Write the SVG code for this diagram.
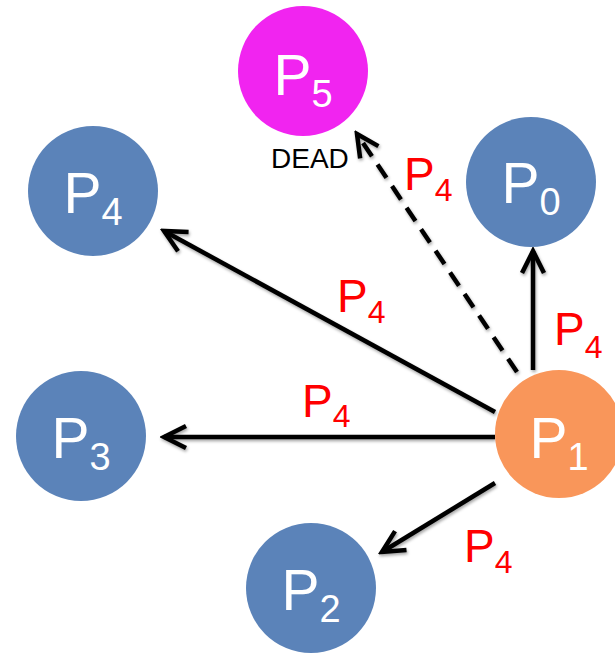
<svg xmlns="http://www.w3.org/2000/svg" width="615" height="656" viewBox="0 0 615 656">
<style>
.blue{fill:#5B83B9}
.nl{font-family:"Liberation Sans",Arial,sans-serif;font-size:57px;fill:#fff;text-anchor:middle}
.ns{font-size:38px}
.el{font-family:"Liberation Sans",Arial,sans-serif;font-size:46px;fill:#FF0000}
.es{font-size:32px}
.c{stroke:#000;stroke-width:4.5;fill:none;marker-end:url(#ah)}
</style>
<defs>
<marker id="ah" markerUnits="userSpaceOnUse" viewBox="-26 -14 30 28" refX="0" refY="0" markerWidth="30" markerHeight="28" orient="auto">
<path d="M-22,-11 L0,0 L-22,11" fill="none" stroke="#000" stroke-width="4.5"/>
</marker>
<filter id="sh" filterUnits="userSpaceOnUse" x="0" y="0" width="615" height="656">
<feDropShadow dx="1" dy="2" stdDeviation="1.5" flood-color="#000" flood-opacity="0.35"/>
</filter>
</defs>
<g id="connectors" filter="url(#sh)">
<line class="c" x1="533" y1="370" x2="533" y2="251"/>
<line class="c" x1="517" y1="372" x2="357" y2="134" stroke-dasharray="16 10"/>
<line class="c" x1="495" y1="412" x2="164" y2="231"/>
<line class="c" x1="495" y1="437" x2="164" y2="437"/>
<line class="c" x1="495" y1="483" x2="382" y2="552"/>
</g>
<g id="edge-labels">
<text class="el" x="404" y="190">P<tspan class="es" dy="11">4</tspan></text>
<text class="el" x="554" y="345">P<tspan class="es" dy="13">4</tspan></text>
<text class="el" x="337" y="312">P<tspan class="es" dy="11">4</tspan></text>
<text class="el" x="302" y="417">P<tspan class="es" dy="10">4</tspan></text>
<text class="el" x="464" y="562">P<tspan class="es" dy="11">4</tspan></text>
</g>
<g id="P5">
<circle cx="303" cy="71" r="65" fill="#F124F0"/>
<text class="nl" x="303" y="95">P<tspan class="ns" dy="12">5</tspan></text>
<text x="271" y="168" font-family="Liberation Sans,Arial,sans-serif" font-size="28" fill="#000">DEAD</text>
</g>
<g id="P4">
<circle class="blue" cx="93" cy="191" r="65"/>
<text class="nl" x="93" y="213">P<tspan class="ns" dy="12">4</tspan></text>
</g>
<g id="P0">
<circle class="blue" cx="531" cy="182" r="65"/>
<text class="nl" x="531" y="203">P<tspan class="ns" dy="12">0</tspan></text>
</g>
<g id="P3">
<circle class="blue" cx="81" cy="436" r="65"/>
<text class="nl" x="81" y="458">P<tspan class="ns" dy="12">3</tspan></text>
</g>
<g id="P1">
<circle cx="559" cy="434" r="64" fill="#F9965A"/>
<text class="nl" x="559" y="458">P<tspan class="ns" dy="12">1</tspan></text>
</g>
<g id="P2">
<circle class="blue" cx="311" cy="588" r="65"/>
<text class="nl" x="311" y="610">P<tspan class="ns" dy="12">2</tspan></text>
</g>
</svg>
